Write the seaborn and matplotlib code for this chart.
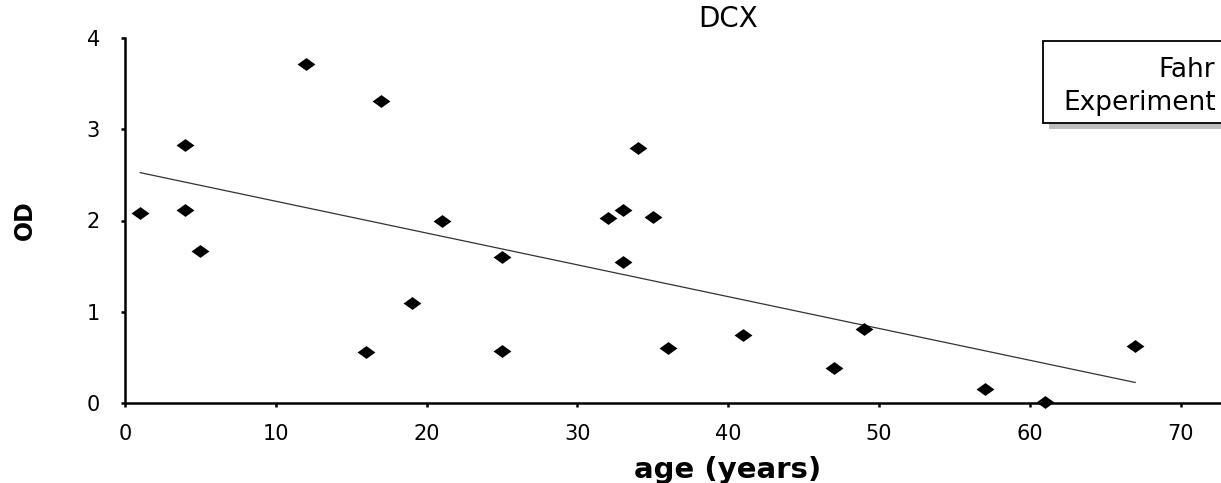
import numpy as np
import pandas as pd
import matplotlib
matplotlib.use("Agg")
import matplotlib.pyplot as plt
from matplotlib.patches import Rectangle
import seaborn as sns

# values
age = [1, 4, 4, 5, 12, 16, 17, 19, 21, 25, 25, 32, 33, 33, 34, 35, 36, 41, 47, 49, 57, 61, 67]
od = [2.08, 2.83, 2.12, 1.67, 3.72, 0.56, 3.31, 1.10, 1.99, 1.60, 0.57, 2.03, 2.11, 1.54,
      2.80, 2.04, 0.60, 0.74, 0.38, 0.81, 0.15, 0.01, 0.62]
x_ticks = [0, 10, 20, 30, 40, 50, 60, 70]
y_ticks = [0, 1, 2, 3, 4]
title = "DCX"
x_label = "age (years)"
y_label = "OD"
box_lines = ["Fahr", "Experiment"]

df = pd.DataFrame({"age": age, "od": od})

sns.set_style("ticks")
plt.rcParams["font.family"] = ["DejaVu Sans"]
plt.rcParams["text.color"] = "black"
plt.rcParams["axes.labelcolor"] = "black"

W, H = 1221, 483
fig = plt.figure(figsize=(W / 100, H / 100), dpi=100)
ax = fig.add_axes([125 / W, 80 / H, 1 - 125 / W, 365 / H])

# flattened diamond marker
diamond = [(-1, 0), (0, 0.72), (1, 0), (0, -0.72), (-1, 0)]
sns.regplot(data=df, x="age", y="od", ax=ax, ci=None, marker=diamond,
            scatter_kws={"s": 165, "color": "black", "alpha": 1, "linewidths": 0,
                         "clip_on": False, "zorder": 3},
            line_kws={"color": "#333333", "linewidth": 0.9})

ax.set_xlim(0, 1096 / 15.08)
ax.set_ylim(0, 4)
ax.set_xticks(x_ticks)
ax.set_yticks(y_ticks)
ax.tick_params(axis="both", direction="out", length=3, width=1.8, labelsize=15, colors="black")
ax.tick_params(axis="x", pad=12)
ax.tick_params(axis="y", pad=15)
sns.despine(ax=ax)
for s in ["left", "bottom"]:
    ax.spines[s].set_linewidth(1.8)
    ax.spines[s].set_color("black")

ax.set_xlabel(x_label, fontsize=21, fontweight="bold")
ax.set_ylabel(y_label, fontsize=17, fontweight="bold")
ax.xaxis.set_label_coords(0.55, -0.145)
ax.yaxis.set_label_coords(-0.0803, 0.5)

fig.text(728 / W, 1 - 27 / H, title, fontsize=20, ha="center", va="baseline")

# annotation box in the top right corner, cut by the figure edge
shadow = Rectangle((1049 / W, 1 - 129 / H), 0.2, 82 / H, transform=fig.transFigure,
                   facecolor="#bdbdbd", edgecolor="none", zorder=1)
box = Rectangle((1043 / W, 1 - 123 / H), 0.2, 82 / H, transform=fig.transFigure,
                facecolor="white", edgecolor="black", linewidth=1.3, zorder=2)
fig.patches.extend([shadow, box])
fig.text(1158 / W, 1 - 77 / H, box_lines[0], fontsize=19, ha="left", va="baseline", zorder=3)
fig.text(1063 / W, 1 - 110 / H, box_lines[1], fontsize=19, ha="left", va="baseline", zorder=3)

fig.savefig("out.png", dpi=100)
